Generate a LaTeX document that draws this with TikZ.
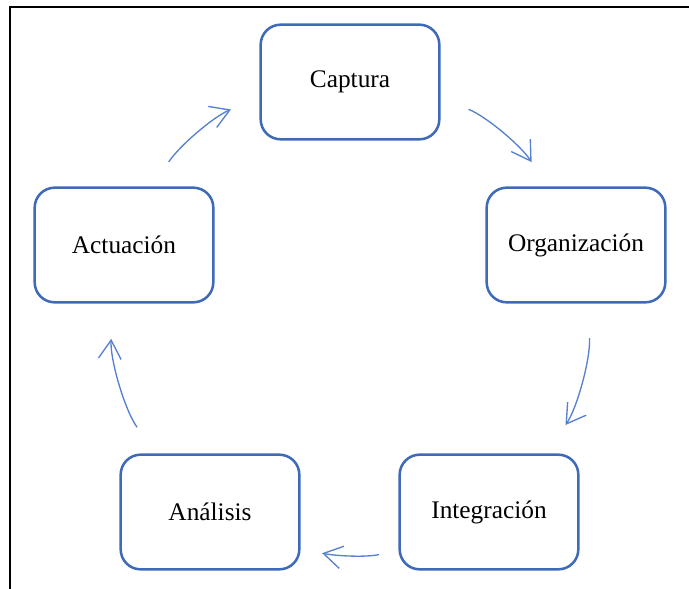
\documentclass[tikz,border=0pt]{standalone}
\usepackage{fontspec}
\setmainfont{Liberation Serif}
\usepackage{xcolor}
\usetikzlibrary{arrows.meta}

\definecolor{boxblue}{RGB}{62,106,184}
\definecolor{flowblue}{RGB}{86,128,208}

\tikzset{
  stage/.style={draw=boxblue, line width=1.9pt, rounded corners=15pt,
    minimum width=134pt, minimum height=86pt, inner sep=0pt,
    font=\fontsize{19}{22}\selectfont},
  flow/.style={draw=flowblue, line width=1pt, looseness=0.9,
    -{Straight Barb[length=14pt,width=17pt]}}
}

\begin{document}
\begin{tikzpicture}[x=0.75pt,y=0.75pt,yscale=-1,xscale=1]
        \useasboundingbox (0,0) rectangle (689,589);
        % outer frame (cut off on the right and at the bottom)
        \draw [line width=1.5pt] (689,7) -- (10,7) -- (10,589);

        \node [stage] (cap) at (350,82) {Captura};
        \node [stage] (org) at (576,245) {Organización};
        \node [stage] (int) at (489,512) {Integración};
        \node [stage] (ana) at (210,512) {Análisis};
        \node [stage] (act) at (124,245) {Actuación};

        \draw [flow, shorten <=22.6pt, shorten >=21.7pt] (cap.-10) to[out=22,in=-123] (org.116);
        \draw [flow, shorten <=26pt, shorten >=26pt] (org.-79) to[out=86.5,in=-55] (int.46.5);
        \draw [flow, shorten <=15pt, shorten >=16.5pt] (int.-157) to[out=168,in=12] (ana.-22.7);
        \draw [flow, shorten <=24pt, shorten >=26.5pt] (ana.133) to[out=-125,in=94] (act.-100);
        \draw [flow, shorten <=22pt, shorten >=23pt] (act.64) to[out=-56.6,in=158] (cap.190.4);
    \end{tikzpicture}
\end{document}
